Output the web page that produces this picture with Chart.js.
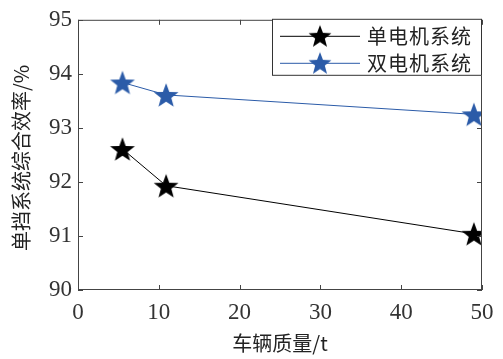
<!DOCTYPE html>
<html><head><meta charset="utf-8">
<script src="https://cdn.jsdelivr.net/npm/chart.js@4/dist/chart.umd.min.js"></script>
<style>html,body{margin:0;padding:0;background:#fff}#wrap{width:503px;height:359px}</style>
</head><body><div id="wrap"><canvas id="c" width="503" height="359"></canvas></div>
<script>
const massX = [5.5, 10.9, 49];
const singleMotor = [92.61, 91.93, 91.04];
const dualMotor = [93.84, 93.61, 93.25];
const seriesNames = ['单电机系统', '双电机系统'];
const xTicks = [0, 10, 20, 30, 40, 50];
const yTicks = [90, 91, 92, 93, 94, 95];
const xTitle = '车辆质量/t';
const yTitle = '单挡系统综合效率/%';

const BLUE = '#2b5ba8';
const NUM_FONT = '"Liberation Serif", serif';
const CJK_FONT = '"Noto Sans CJK SC", "Liberation Serif", serif';

function starImg(color, R) {
  const s = Math.ceil(R * 2 + 2);
  const cv = document.createElement('canvas');
  cv.width = s; cv.height = s;
  const g = cv.getContext('2d');
  const cx = s / 2, cy = s / 2 + R * 0.1;
  const r = R * 0.42;
  g.beginPath();
  for (let i = 0; i < 10; i++) {
    const a = -Math.PI / 2 + i * Math.PI / 5;
    const rr = i % 2 === 0 ? R : r;
    const px = cx + rr * Math.cos(a), py = cy + rr * Math.sin(a);
    i === 0 ? g.moveTo(px, py) : g.lineTo(px, py);
  }
  g.closePath();
  g.fillStyle = color; g.fill();
  return cv;
}
const starBlack = starImg('#000', 13);
const starBlue = starImg(BLUE, 13);
const starBlackS = starImg('#000', 12);
const starBlueS = starImg(BLUE, 12);

const boxTicks = {
  id: 'boxTicks',
  afterDatasetsDraw(chart) {
    const { ctx, chartArea: a, scales: { x, y } } = chart;
    ctx.save();
    ctx.strokeStyle = '#444'; ctx.lineWidth = 1;
    ctx.strokeRect(a.left + 0.5, a.top + 0.5, a.right - a.left - 1, a.bottom - a.top - 1);
    const L = 5;
    ctx.beginPath();
    xTicks.forEach(v => {
      const px = Math.round(x.getPixelForValue(v)) + 0.5;
      ctx.moveTo(px, a.bottom); ctx.lineTo(px, a.bottom - L);
      ctx.moveTo(px, a.top); ctx.lineTo(px, a.top + L);
    });
    yTicks.forEach(v => {
      const py = Math.round(y.getPixelForValue(v)) + 0.5;
      ctx.moveTo(a.left, py); ctx.lineTo(a.left + L, py);
      ctx.moveTo(a.right, py); ctx.lineTo(a.right - L, py);
    });
    ctx.stroke();
    // y title
    ctx.save();
    ctx.translate(21, (a.top + a.bottom) / 2 + 3);
    ctx.rotate(-Math.PI / 2);
    ctx.fillStyle = '#222';
    ctx.font = '20px ' + CJK_FONT;
    ctx.textAlign = 'center'; ctx.textBaseline = 'middle';
    ctx.fillText(yTitle, 0, 0);
    ctx.restore();
    // legend
    const lx = 272, ly = a.top - 1, lw = a.right - lx, lh = 57;
    ctx.fillStyle = '#fff';
    ctx.fillRect(lx, ly, lw, lh);
    ctx.strokeStyle = '#333';
    ctx.strokeRect(lx + 0.5, ly + 0.5, lw - 1, lh - 1);
    const rows = [[seriesNames[0], '#000', starBlackS], [seriesNames[1], BLUE, starBlueS]];
    rows.forEach((r, i) => {
      const cy = ly + 17 + i * 27;
      ctx.strokeStyle = r[1]; ctx.lineWidth = 1;
      ctx.beginPath(); ctx.moveTo(280, cy + 0.5); ctx.lineTo(360, cy + 0.5); ctx.stroke();
      ctx.drawImage(r[2], 320 - r[2].width / 2, cy - r[2].height / 2);
      ctx.fillStyle = '#222';
      ctx.font = '20px ' + CJK_FONT;
      ctx.textBaseline = 'middle'; ctx.textAlign = 'left';
      ctx.letterSpacing = '1px';
      ctx.fillText(r[0], 367, cy + 1);
    });
    ctx.restore();
  }
};

new Chart(document.getElementById('c'), {
  type: 'scatter',
  data: {
    datasets: [
      { label: seriesNames[0], data: massX.map((v, i) => ({ x: v, y: singleMotor[i] })), showLine: true,
        borderColor: '#000', borderWidth: 1, pointStyle: starBlack, pointRadius: 13 },
      { label: seriesNames[1], data: massX.map((v, i) => ({ x: v, y: dualMotor[i] })), showLine: true,
        borderColor: BLUE, borderWidth: 1, pointStyle: starBlue, pointRadius: 13 }
    ]
  },
  options: {
    responsive: false, animation: false,
    layout: { padding: { top: 14, right: 21, left: 0, bottom: 0 } },
    plugins: { legend: { display: false }, tooltip: { enabled: false } },
    scales: {
      x: {
        type: 'linear', min: 0, max: 50,
        afterBuildTicks: s => { s.ticks = xTicks.map(v => ({ value: v })); },
        afterFit: s => { s.height = 69; },
        grid: { display: false, drawTicks: false }, border: { display: false },
        ticks: { color: '#333', font: { family: NUM_FONT, size: 23 }, padding: 9, maxRotation: 0 },
        title: { display: true, text: xTitle, color: '#222', font: { family: CJK_FONT, size: 20 }, padding: { top: 2 } }
      },
      y: {
        type: 'linear', min: 90, max: 95,
        afterBuildTicks: s => { s.ticks = yTicks.map(v => ({ value: v })); },
        afterFit: s => { s.width = 78; },
        grid: { display: false, drawTicks: false }, border: { display: false },
        ticks: { color: '#333', font: { family: NUM_FONT, size: 23 }, padding: 6 }
      }
    }
  },
  plugins: [boxTicks]
});
</script></body></html>
